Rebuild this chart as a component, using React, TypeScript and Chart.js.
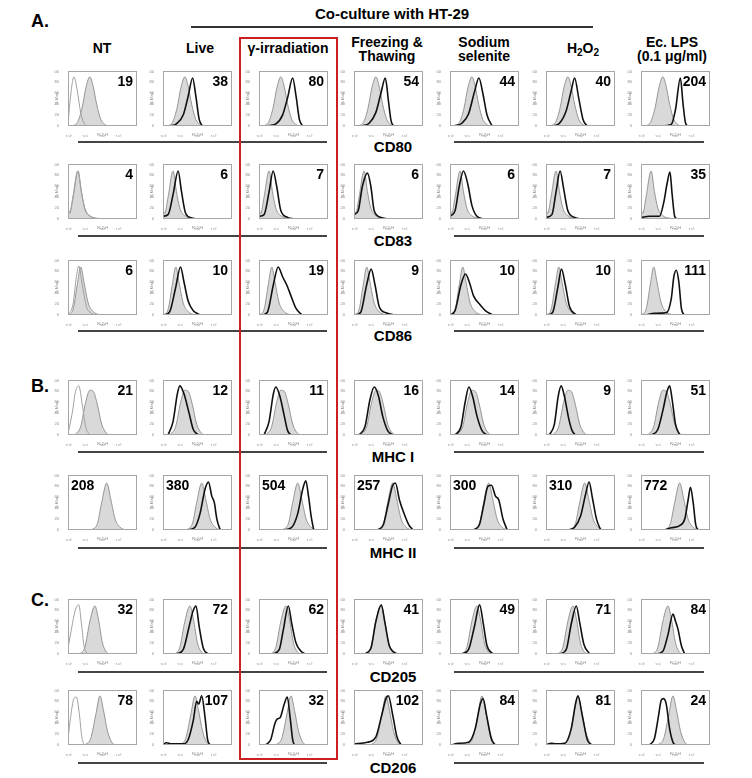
import React, { useEffect, useRef } from "react";
import { Chart, registerables } from "chart.js";

Chart.register(...registerables);
Chart.defaults.font.family = "'Liberation Sans', Arial, sans-serif";

type Pt = [number, number];

// ---------- DATA (x = log10 fluorescence decade, y = % of max) ----------
const title = "Co-culture with HT-29";
const sectionLetters = ["A.", "B.", "C."];
const conditions = ["NT", "Live", "γ-irradiation", "Freezing & Thawing", "Sodium selenite", "H2O2", "Ec. LPS (0.1 μg/ml)"];
const markers = ["CD80", "CD83", "CD86", "MHC I", "MHC II", "CD205", "CD206"];
const xTickLabels = ["10⁰", "10¹", "10²", "10³"];
const yTicks = [0, 20, 40, 60, 80, 100];

// MFI values shown in each panel (NT, Live, γ-irr, F&T, Selenite, H2O2, LPS)
const mfiCD80 = [19, 38, 80, 54, 44, 40, 204];
const mfiCD83 = [4, 6, 7, 6, 6, 7, 35];
const mfiCD86 = [6, 10, 19, 9, 10, 10, 111];
const mfiMHC1 = [21, 12, 11, 16, 14, 9, 51];
const mfiMHC2 = [208, 380, 504, 257, 300, 310, 772];
const mfiCD205 = [32, 72, 62, 41, 49, 71, 84];
const mfiCD206 = [78, 107, 32, 102, 84, 81, 24];

// CD80
const grayCD80: Pt[] = [[0.2, 0], [0.55, 6], [0.85, 35], [1.05, 68], [1.3, 90], [1.5, 72], [1.7, 40], [1.95, 12], [2.3, 0]];
const isoCD80: Pt[] = [[0, 3], [0.12, 45], [0.35, 90], [0.55, 65], [0.75, 25], [0.95, 5], [1.15, 0]];
const treatedCD80: Pt[][] = [
  [[0.4, 0], [0.8, 4], [1.2, 20], [1.5, 55], [1.76, 88], [1.95, 55], [2.15, 12], [2.35, 0]],
  [[0.45, 0], [1.0, 4], [1.4, 20], [1.7, 52], [2.0, 88], [2.2, 55], [2.4, 12], [2.6, 0]],
  [[0.5, 0], [0.9, 5], [1.3, 25], [1.6, 60], [1.86, 88], [2.05, 45], [2.2, 10], [2.35, 0]],
  [[0.25, 0], [0.7, 5], [1.1, 22], [1.45, 62], [1.72, 88], [1.95, 60], [2.2, 20], [2.5, 0]],
  [[0.4, 0], [0.8, 5], [1.2, 28], [1.5, 65], [1.7, 88], [1.95, 50], [2.2, 12], [2.45, 0]],
  [[1.2, 0], [1.8, 3], [2.05, 30], [2.34, 88], [2.5, 40], [2.65, 5], [2.8, 0]],
];

// CD83
const grayCD83: Pt[] = [[0, 18], [0.1, 10], [0.3, 40], [0.6, 88], [0.8, 50], [1.0, 20], [1.3, 6], [1.8, 1], [2.2, 0]];
const isoCD83: Pt[] = [[0, 20], [0.1, 12], [0.3, 42], [0.58, 88], [0.8, 48], [1.0, 18], [1.3, 5], [1.8, 0]];
const treatedCD83: Pt[][] = [
  [[0, 5], [0.3, 8], [0.6, 45], [0.9, 88], [1.1, 50], [1.35, 10], [1.7, 2], [2.0, 0]],
  [[0, 5], [0.3, 8], [0.6, 50], [0.84, 88], [1.05, 60], [1.3, 15], [1.7, 3], [2.1, 0]],
  [[0, 8], [0.25, 15], [0.5, 60], [0.8, 84], [1.0, 60], [1.2, 15], [1.6, 3], [2.0, 0]],
  [[0, 5], [0.3, 15], [0.55, 60], [0.8, 88], [1.05, 65], [1.3, 25], [1.6, 5], [2.0, 0]],
  [[0, 3], [0.35, 8], [0.6, 50], [0.84, 88], [1.05, 55], [1.3, 15], [1.7, 3], [2.0, 0]],
  [[0, 3], [0.5, 5], [1.1, 5], [1.35, 30], [1.55, 65], [1.72, 86], [1.85, 45], [2.0, 5], [2.15, 0]],
];

// CD86
const grayCD86: Pt[] = [[0, 0], [0.3, 10], [0.55, 55], [0.76, 88], [0.95, 60], [1.2, 22], [1.5, 6], [1.9, 0]];
const isoCD86: Pt[] = [[0, 0], [0.3, 20], [0.5, 70], [0.64, 90], [0.85, 55], [1.1, 15], [1.4, 3], [1.7, 0]];
const treatedCD86: Pt[][] = [
  [[0.1, 0], [0.4, 6], [0.75, 50], [1.04, 88], [1.25, 60], [1.5, 25], [1.8, 8], [2.2, 0]],
  [[0.2, 0], [0.5, 5], [0.85, 55], [1.14, 88], [1.4, 70], [1.65, 55], [1.9, 35], [2.2, 12], [2.55, 0]],
  [[0.1, 0], [0.4, 5], [0.75, 55], [1.02, 84], [1.25, 55], [1.5, 15], [1.9, 4], [2.35, 0]],
  [[0, 0], [0.3, 8], [0.65, 55], [0.92, 75], [1.15, 60], [1.4, 35], [1.75, 20], [2.1, 8], [2.55, 0]],
  [[0.1, 0], [0.4, 5], [0.7, 50], [0.92, 84], [1.15, 55], [1.4, 15], [1.8, 0]],
  [[0.3, 0], [0.8, 3], [1.5, 4], [1.8, 30], [1.95, 70], [2.1, 82], [2.25, 60], [2.4, 12], [2.55, 0]],
];

// MHC I
const grayMHC1: Pt[] = [[0.4, 0], [0.75, 15], [1.05, 60], [1.3, 82], [1.5, 80], [1.75, 55], [2.0, 20], [2.3, 3], [2.5, 0]];
const isoMHC1: Pt[] = [[0, 2], [0.25, 40], [0.45, 80], [0.64, 90], [0.85, 55], [1.05, 15], [1.3, 0]];
const treatedMHC1: Pt[][] = [
  [[0.3, 0], [0.6, 25], [0.85, 75], [1.0, 90], [1.25, 75], [1.55, 40], [1.8, 10], [2.1, 0]],
  [[0.3, 0], [0.6, 25], [0.85, 75], [1.0, 88], [1.25, 70], [1.5, 35], [1.7, 8], [1.9, 0]],
  [[0.3, 0], [0.65, 15], [0.95, 65], [1.2, 88], [1.45, 72], [1.7, 35], [2.0, 8], [2.3, 0]],
  [[0.3, 0], [0.65, 15], [0.9, 60], [1.12, 88], [1.35, 70], [1.6, 35], [1.9, 8], [2.2, 0]],
  [[0.2, 0], [0.5, 20], [0.72, 70], [0.9, 90], [1.1, 70], [1.35, 30], [1.55, 8], [1.75, 0]],
  [[0.6, 0], [1.0, 10], [1.3, 45], [1.55, 80], [1.7, 90], [1.85, 65], [2.05, 20], [2.3, 0]],
];

// MHC II
const grayMHC2: Pt[] = [[1.4, 0], [1.75, 12], [2.0, 50], [2.3, 86], [2.55, 55], [2.8, 20], [3.1, 5], [3.4, 0]];
const isoMHC2: Pt[] | null = null;
const treatedMHC2: Pt[][] = [
  [[1.5, 0], [1.9, 5], [2.2, 30], [2.5, 75], [2.7, 88], [2.9, 62], [3.05, 50], [3.2, 20], [3.4, 0]],
  [[1.5, 0], [1.95, 5], [2.3, 30], [2.6, 75], [2.78, 90], [2.95, 60], [3.1, 25], [3.25, 0]],
  [[1.4, 0], [1.75, 10], [2.05, 50], [2.3, 82], [2.46, 86], [2.7, 55], [3.0, 28], [3.25, 10], [3.5, 0]],
  [[1.4, 0], [1.75, 10], [2.0, 45], [2.25, 80], [2.46, 82], [2.7, 62], [2.9, 55], [3.15, 20], [3.4, 0]],
  [[1.3, 0], [1.7, 5], [2.05, 25], [2.35, 65], [2.56, 88], [2.75, 60], [3.0, 20], [3.25, 0]],
  [[1.4, 0], [1.8, 4], [2.3, 8], [2.6, 20], [2.8, 55], [2.94, 78], [3.1, 50], [3.25, 10], [3.4, 0]],
];

// CD205
const grayCD205: Pt[] = [[0.7, 0], [1.0, 12], [1.3, 60], [1.6, 88], [1.8, 65], [2.05, 20], [2.3, 3], [2.5, 0]];
const isoCD205: Pt[] = [[0, 10], [0.2, 45], [0.45, 82], [0.64, 90], [0.8, 55], [0.95, 15], [1.15, 0]];
const treatedCD205: Pt[][] = [
  [[0.8, 0], [1.2, 8], [1.55, 50], [1.8, 80], [1.96, 88], [2.15, 50], [2.4, 10], [2.7, 0]],
  [[0.8, 0], [1.2, 8], [1.45, 45], [1.74, 88], [1.95, 55], [2.2, 20], [2.5, 5], [2.75, 0]],
  [[0.6, 0], [1.0, 10], [1.3, 60], [1.62, 90], [1.85, 55], [2.1, 15], [2.35, 4], [2.6, 0]],
  [[0.7, 0], [1.1, 8], [1.45, 50], [1.76, 90], [1.98, 55], [2.2, 15], [2.55, 0]],
  [[0.8, 0], [1.2, 8], [1.5, 55], [1.8, 88], [2.0, 58], [2.25, 18], [2.6, 0]],
  [[0.9, 0], [1.3, 5], [1.6, 35], [1.9, 73], [2.05, 60], [2.2, 45], [2.4, 15], [2.6, 0]],
];

// CD206
const grayCD206: Pt[] = [[1.0, 0], [1.35, 12], [1.65, 55], [1.9, 90], [2.1, 65], [2.35, 25], [2.6, 5], [2.8, 0]];
const isoCD206: Pt[] = [[0, 12], [0.15, 50], [0.35, 85], [0.5, 88], [0.68, 55], [0.82, 15], [0.95, 0]];
const treatedCD206: Pt[][] = [
  [[0, 0], [0.2, 4], [0.5, 2], [1.2, 2], [1.5, 10], [1.8, 45], [2.0, 80], [2.12, 75], [2.3, 90], [2.5, 50], [2.65, 10], [2.8, 0]],
  [[0.4, 0], [0.7, 10], [0.95, 40], [1.1, 48], [1.25, 50], [1.5, 75], [1.68, 88], [1.85, 50], [2.0, 10], [2.1, 0]],
  [[0, 2], [0.8, 5], [1.3, 15], [1.65, 55], [1.9, 85], [2.04, 90], [2.3, 55], [2.55, 15], [2.8, 0]],
  [[0.1, 0], [0.5, 3], [1.1, 5], [1.5, 30], [1.8, 75], [1.96, 85], [2.2, 50], [2.45, 12], [2.66, 0]],
  [[0, 0], [0.3, 3], [0.6, 2], [1.1, 3], [1.5, 30], [1.75, 75], [1.9, 90], [2.15, 55], [2.45, 10], [2.7, 0]],
  [[0.5, 0], [0.8, 12], [1.05, 55], [1.2, 82], [1.34, 85], [1.5, 75], [1.7, 30], [1.9, 5], [2.05, 0]],
];

const rowGray = [grayCD80, grayCD83, grayCD86, grayMHC1, grayMHC2, grayCD205, grayCD206];
const rowIso = [isoCD80, isoCD83, isoCD86, isoMHC1, isoMHC2, isoCD205, isoCD206];
const rowTreated = [treatedCD80, treatedCD83, treatedCD86, treatedMHC1, treatedMHC2, treatedCD205, treatedCD206];
const rowMfi = [mfiCD80, mfiCD83, mfiCD86, mfiMHC1, mfiMHC2, mfiCD205, mfiCD206];

// ---------- LAYOUT ----------
const colX = [68, 163, 259, 354, 450, 546, 641];
const rowY = [69, 162, 258, 378, 473, 597, 688];
const lineY = [142, 236, 331, 452, 548, 672, 763];
const headerCX = [102, 200, 288, 387, 484, 583, 672];
const PW = 69;
const PH = 57;
const AXW = 14;
const AXH = 11;
const FONT = "'Liberation Sans', Arial, Helvetica, sans-serif";

const toXY = (pts: Pt[]) => pts.map(([x, y]) => ({ x, y }));

const boxPlugin = {
  id: "panelBox",
  afterDraw(chart: any) {
    const { ctx, chartArea } = chart;
    ctx.save();
    ctx.strokeStyle = "#a6a6a6";
    ctx.lineWidth = 1;
    ctx.strokeRect(
      Math.round(chartArea.left) + 0.5,
      Math.round(chartArea.top) + 0.5,
      Math.round(chartArea.right - chartArea.left) - 1,
      Math.round(chartArea.bottom - chartArea.top) - 1
    );
    ctx.restore();
  },
};

function Panel(props: { x: number; y: number; gray: Pt[]; iso: Pt[] | null; treated: Pt[] | null }) {
  const ref = useRef<HTMLCanvasElement>(null);
  useEffect(() => {
    if (!ref.current) return;
    const datasets: any[] = [];
    if (props.treated) {
      datasets.push({
        data: toXY(props.treated),
        borderColor: "#111111",
        borderWidth: 1.6,
        fill: false,
        pointRadius: 0,
        cubicInterpolationMode: "monotone",
        order: 0,
      });
    }
    if (props.iso) {
      datasets.push({
        data: toXY(props.iso),
        borderColor: "#a0a0a0",
        borderWidth: 1,
        fill: false,
        pointRadius: 0,
        cubicInterpolationMode: "monotone",
        order: 1,
      });
    }
    datasets.push({
      data: toXY(props.gray),
      borderColor: "#959595",
      backgroundColor: "#d9d9d9",
      borderWidth: 1,
      fill: "origin",
      pointRadius: 0,
      cubicInterpolationMode: "monotone",
      order: 2,
    });
    const chart = new Chart(ref.current, {
      type: "line",
      data: { datasets },
      options: {
        animation: false,
        responsive: false,
        maintainAspectRatio: false,
        devicePixelRatio: 1,
        layout: { padding: { top: 1, right: 1, left: 0, bottom: 0 } },
        plugins: { legend: { display: false }, tooltip: { enabled: false } },
        scales: {
          x: {
            type: "linear",
            min: 0,
            max: 4.1,
            grid: { display: false },
            border: { display: false },
            ticks: {
              stepSize: 1,
              autoSkip: false,
              maxRotation: 0,
              padding: 0,
              color: "#888",
              font: { size: 4 },
              callback: (v: any) => (Number.isInteger(v) && v <= 3 ? xTickLabels[v] : ""),
            },
            title: { display: true, text: "FL2-H", font: { size: 4 }, color: "#888", padding: 0 },
            afterFit: (s: any) => {
              s.height = AXH;
            },
          },
          y: {
            min: 0,
            max: 100,
            grid: { display: false },
            border: { display: false },
            afterBuildTicks: (s: any) => {
              s.ticks = yTicks.map((v) => ({ value: v }));
            },
            ticks: { padding: 1, color: "#888", font: { size: 4 } },
            title: { display: true, text: "% Max", font: { size: 4 }, color: "#888", padding: 0 },
            afterFit: (s: any) => {
              s.width = AXW;
            },
          },
        },
      },
      plugins: [boxPlugin],
    });
    return () => chart.destroy();
  }, []);
  const w = AXW + PW + 1;
  const h = PH + AXH + 1;
  return (
    <canvas
      ref={ref}
      width={w}
      height={h}
      style={{ position: "absolute", left: props.x - AXW, top: props.y - 1, width: w, height: h }}
    />
  );
}

const abs = (extra: React.CSSProperties): React.CSSProperties => ({ position: "absolute", ...extra });

function CenterText(props: { cx: number; cy: number; size: number; children: React.ReactNode }) {
  return (
    <div
      style={abs({
        left: props.cx,
        top: props.cy,
        transform: "translate(-50%, -50%)",
        fontSize: props.size,
        fontWeight: 700,
        lineHeight: 1,
        whiteSpace: "nowrap",
        color: "#000",
      })}
    >
      {props.children}
    </div>
  );
}

function HeaderLabel({ idx }: { idx: number }) {
  const name = conditions[idx];
  const cx = headerCX[idx];
  if (name === "H2O2") {
    return (
      <CenterText cx={cx} cy={49} size={14}>
        H<span style={{ fontSize: 10, verticalAlign: -3 }}>2</span>O
        <span style={{ fontSize: 10, verticalAlign: -3 }}>2</span>
      </CenterText>
    );
  }
  let lines: string[] = [name];
  if (name === "Freezing & Thawing") lines = ["Freezing &", "Thawing"];
  if (name === "Sodium selenite") lines = ["Sodium", "selenite"];
  if (name === "Ec. LPS (0.1 μg/ml)") lines = ["Ec. LPS", "(0.1 μg/ml)"];
  if (lines.length === 1) {
    return (
      <CenterText cx={cx} cy={48} size={14}>
        {lines[0]}
      </CenterText>
    );
  }
  return (
    <>
      <CenterText cx={cx} cy={42} size={14}>
        {lines[0]}
      </CenterText>
      <CenterText cx={cx} cy={56} size={14}>
        {lines[1]}
      </CenterText>
    </>
  );
}

export default function App() {
  const panels: React.ReactNode[] = [];
  const numbers: React.ReactNode[] = [];
  rowY.forEach((py, r) => {
    colX.forEach((px, c) => {
      panels.push(
        <Panel
          key={`p${r}-${c}`}
          x={px}
          y={py}
          gray={rowGray[r]}
          iso={c === 0 ? rowIso[r] : null}
          treated={c === 0 ? null : rowTreated[r][c - 1]}
        />
      );
      const leftAligned = markers[r] === "MHC II";
      numbers.push(
        <div
          key={`n${r}-${c}`}
          style={abs({
            left: leftAligned ? px + 3 : px,
            top: py + (leftAligned ? 5 : 5),
            width: leftAligned ? undefined : PW - 4,
            textAlign: leftAligned ? "left" : "right",
            fontSize: 14,
            fontWeight: 700,
            lineHeight: 1,
            whiteSpace: "nowrap",
            color: "#000",
          })}
        >
          {rowMfi[r][c]}
        </div>
      );
    });
  });

  return (
    <div
      style={{
        position: "absolute",
        left: 0,
        top: 0,
        width: 752,
        height: 778,
        background: "#fff",
        fontFamily: FONT,
        overflow: "hidden",
      }}
    >
      <CenterText cx={392} cy={13} size={15}>
        {title}
      </CenterText>
      <div style={abs({ left: 191, top: 26, width: 402, height: 2, background: "#333" })} />
      <CenterText cx={40} cy={21} size={18}>
        {sectionLetters[0]}
      </CenterText>
      <CenterText cx={40} cy={386} size={18}>
        {sectionLetters[1]}
      </CenterText>
      <CenterText cx={40} cy={600} size={18}>
        {sectionLetters[2]}
      </CenterText>
      {conditions.map((_, i) => (
        <HeaderLabel key={`h${i}`} idx={i} />
      ))}
      {lineY.map((ly, r) => (
        <React.Fragment key={`l${r}`}>
          <div style={abs({ left: 78, top: ly - 1, width: 249, height: 2, background: "#444" })} />
          <div style={abs({ left: 454, top: ly - 1, width: 250, height: 2, background: "#444" })} />
          <CenterText cx={393} cy={ly + 4} size={15}>
            {markers[r]}
          </CenterText>
        </React.Fragment>
      ))}
      {panels}
      {numbers}
      <div
        style={abs({
          left: 239,
          top: 37,
          width: 99,
          height: 723,
          border: "2px solid #cc1f1f",
          boxSizing: "border-box",
        })}
      />
    </div>
  );
}
